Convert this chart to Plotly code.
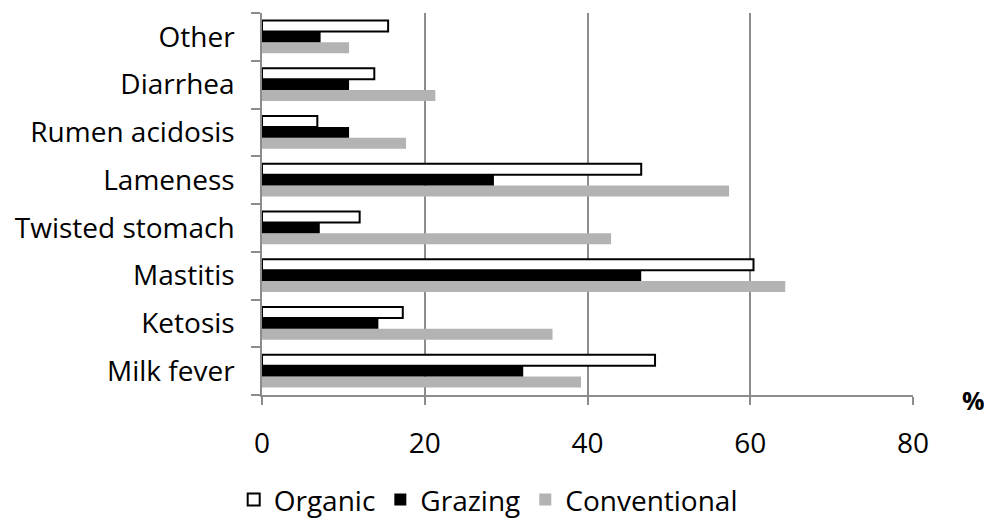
import plotly.graph_objects as go

categories = ["Milk fever", "Ketosis", "Mastitis", "Twisted stomach",
              "Lameness", "Rumen acidosis", "Diarrhea", "Other"]
organic = [48.3, 17.3, 60.4, 12.0, 46.6, 6.8, 13.8, 15.5]
grazing = [32.1, 14.3, 46.6, 7.1, 28.5, 10.7, 10.7, 7.2]
conventional = [39.2, 35.7, 64.3, 42.9, 57.4, 17.7, 21.3, 10.7]
x_ticks = [0, 20, 40, 60, 80]

FONT = "Open Sans"
FS = 28

fig = go.Figure()
fig.add_trace(go.Bar(y=categories, x=conventional, orientation="h", name="Conventional",
                     marker=dict(color="#b3b3b3", line=dict(width=0))))
fig.add_trace(go.Bar(y=categories, x=grazing, orientation="h", name="Grazing",
                     marker=dict(color="#000000", line=dict(width=0))))
fig.add_trace(go.Bar(y=categories, x=organic, orientation="h", name="Organic",
                     marker=dict(color="#ffffff", line=dict(color="#000000", width=2))))

fig.update_layout(
    width=984, height=514,
    margin=dict(l=254, r=79, t=5, b=127),
    paper_bgcolor="white", plot_bgcolor="white",
    barmode="group", bargap=0.31, bargroupgap=0,
    font=dict(family=FONT, size=FS, color="#000000"),
    showlegend=True,
    legend=dict(orientation="h", xref="container", yref="container",
                x=0.488, xanchor="center", y=0.043, yanchor="middle",
                traceorder="reversed", font=dict(size=FS), itemwidth=30,
                bgcolor="rgba(0,0,0,0)"),
    xaxis=dict(range=[0, 80], tickvals=x_ticks, showgrid=True, gridcolor="#8c8c8c",
               gridwidth=1.5, showline=True, linecolor="#8c8c8c", linewidth=1.5,
               ticks="outside", ticklen=8, tickcolor="#8c8c8c", tickwidth=1.5,
               zeroline=False, tickfont=dict(size=FS), automargin=False,
               ticklabelstandoff=15),
    yaxis=dict(type="category", categoryorder="array", categoryarray=categories,
               showline=True, linecolor="#8c8c8c", linewidth=1.5,
               ticks="outside", tickson="boundaries", ticklen=9, tickcolor="#8c8c8c",
               tickwidth=1.5, showgrid=False, tickfont=dict(size=FS),
               automargin=False, ticklabelstandoff=20),
    annotations=[dict(text="<b>%</b>", xref="paper", yref="paper", x=1.093, y=-0.013,
                      xanchor="center", yanchor="middle", showarrow=False,
                      font=dict(size=25, family=FONT))],
)

fig.write_html("out.html")
